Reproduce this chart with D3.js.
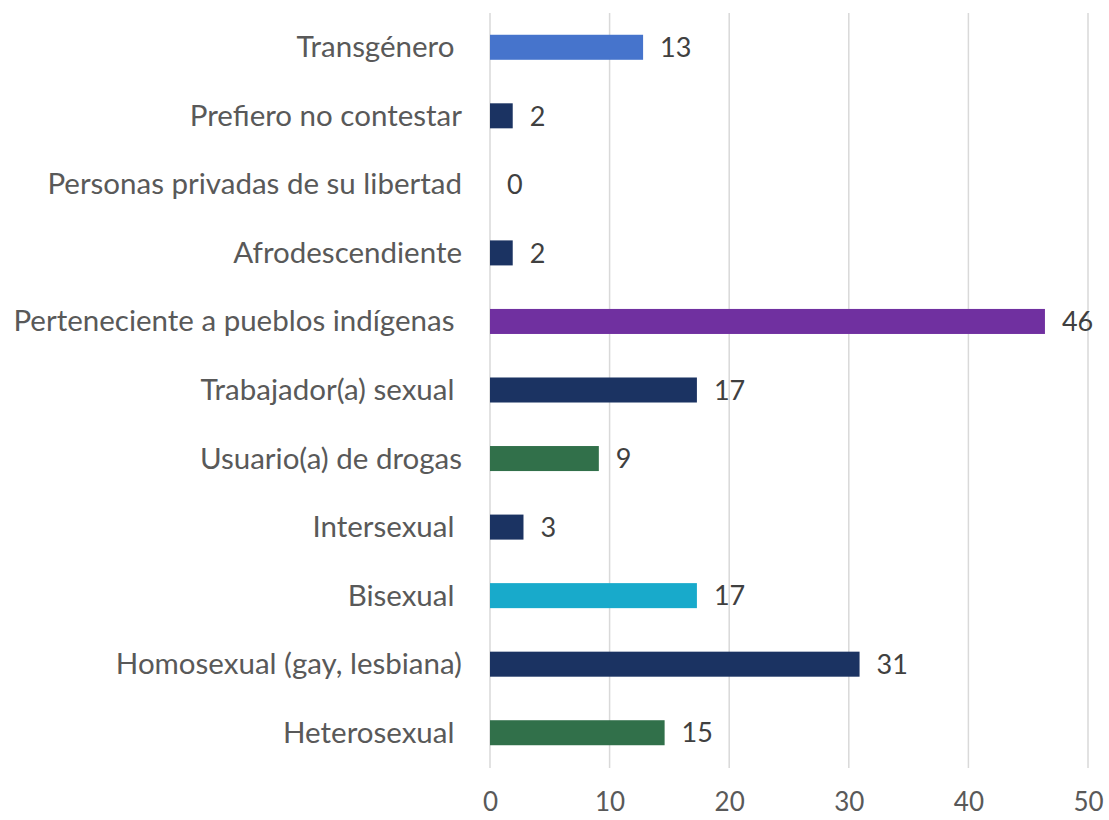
<!DOCTYPE html>
<html>
    <head>
        <meta charset="utf-8">
        <title>Poblaciones</title>
        <script src="https://d3js.org/d3.v7.min.js"></script>
        <style>
            body { margin: 0; background: #fff; }
            text { font-family: Lato, "Open Sans", sans-serif; }
        </style>
    </head>
    <body>
        <svg width="1109" height="820"></svg>
        <script>
            // categories from top to bottom
            const categories = [
                "Transgénero ",
                "Prefiero no contestar",
                "Personas privadas de su libertad",
                "Afrodescendiente",
                "Perteneciente a pueblos indígenas ",
                "Trabajador(a) sexual ",
                "Usuario(a) de drogas",
                "Intersexual ",
                "Bisexual ",
                "Homosexual (gay, lesbiana)",
                "Heterosexual "
            ];
            const values = [12.8, 1.9, 0, 1.9, 46.4, 17.3, 9.1, 2.8, 17.3, 30.9, 14.6];
            const barColors = ["#4674cc", "#1b3362", "#1b3362", "#1b3362", "#7030a0", "#1b3362",
                               "#31704a", "#1b3362", "#18aacb", "#1b3362", "#31704a"];
            const xTicks = [0, 10, 20, 30, 40, 50];

            const data = categories.map((c, i) => ({ name: c, value: values[i], color: barColors[i] }));

            const svg = d3.select('svg');
            let margin = { top: 13, bottom: 53, left: 490, right: 21 };
            let width = svg.attr("width") - margin.left - margin.right;
            let height = svg.attr("height") - margin.top - margin.bottom;

            let xScale = d3.scaleLinear()
                    .range([0, width])
                    .domain([0, 50]);

            let yScale = d3.scaleBand()
                    .range([0, height])
                    .domain(categories)
                    .paddingInner(0.635)
                    .paddingOuter(0.3175);

            let g = svg.append("g")
                    .attr("transform", "translate(" + margin.left + "," + margin.top + ")");

            // gridlines
            g.selectAll('.grid')
            .data(xTicks)
            .enter().append('line')
            .attr('class', 'grid')
            .attr('x1', d => xScale(d))
            .attr('x2', d => xScale(d))
            .attr('y1', 0)
            .attr('y2', height + 1)
            .style('stroke', '#d9d9d9')
            .style('stroke-width', 1.5);

            // x axis tick labels
            let xAxis = d3.axisBottom(xScale)
                        .tickValues(xTicks)
                        .tickSize(0)
                        .tickPadding(26);
            let xg = g.append('g')
            .attr("transform", "translate(0," + height + ")")
            .call(xAxis);
            xg.select('.domain').remove();
            xg.selectAll('text')
            .style('font-size', '26px')
            .style('fill', '#595959');

            // y axis category labels
            let yAxis = d3.axisLeft(yScale)
                        .tickSize(0)
                        .tickPadding(28);
            let yg = g.append('g').call(yAxis);
            yg.select('.domain').remove();
            yg.selectAll('text')
            .style('font-size', '29.5px')
            .style('fill', '#595959')
            .style('white-space', 'pre')
            .attr('dy', '0.34em')
            .attr('xml:space', 'preserve');

            // bars
            g.selectAll('.bar')
            .data(data)
            .enter().append('rect')
            .attr('class', 'bar')
            .attr('x', xScale(0))
            .attr('y', d => yScale(d.name))
            .attr('width', d => xScale(d.value) - xScale(0))
            .attr('height', yScale.bandwidth())
            .style('fill', d => d.color);

            // value labels
            g.selectAll('.val')
            .data(data)
            .enter().append('text')
            .attr('class', 'val')
            .attr('x', d => xScale(d.value) + 17)
            .attr('y', d => yScale(d.name) + yScale.bandwidth() / 2)
            .attr('dy', '0.36em')
            .style('font-size', '27px')
            .style('fill', '#404040')
            .text(d => d3.format('.0f')(d.value));
        </script>
    </body>
</html>
